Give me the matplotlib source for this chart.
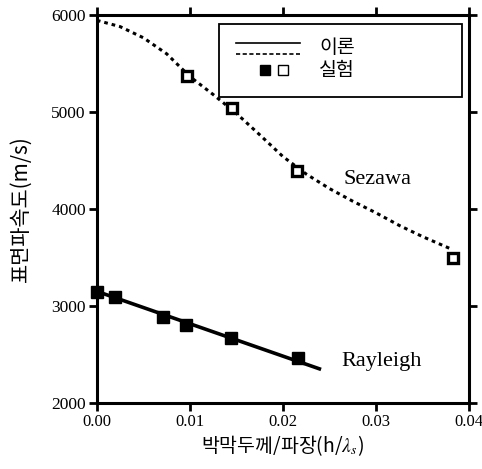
import matplotlib
matplotlib.use("Agg")
import matplotlib.pyplot as plt
from matplotlib.lines import Line2D
from matplotlib.patches import Rectangle

plt.rcParams['font.family'] = ['Liberation Serif', 'Noto Sans CJK KR', 'DejaVu Sans']
plt.rcParams['mathtext.fontset'] = 'stix'

# ---- data ----
ray_exp_x = [0.0, 0.0019, 0.0071, 0.0096, 0.0144, 0.0216]
ray_exp_y = [3145, 3090, 2890, 2800, 2665, 2460]
ray_th_x = [0.0, 0.0241]
ray_th_y = [3150, 2345]

sez_exp_x = [0.0097, 0.0145, 0.0215, 0.0383]
sez_exp_y = [5375, 5045, 4390, 3495]
sez_th_x = [0.0, 0.0025, 0.005, 0.0075, 0.01, 0.0125, 0.015, 0.0175,
            0.02, 0.0225, 0.025, 0.0275, 0.03, 0.0325, 0.035, 0.038]
sez_th_y = [5945, 5880, 5765, 5600, 5365, 5180, 4985, 4765,
            4540, 4360, 4210, 4080, 3960, 3830, 3715, 3590]

xticks = [0.00, 0.01, 0.02, 0.03, 0.04]
xtick_labels = ["0.00", "0.01", "0.02", "0.03", "0.04"]
yticks = [2000, 3000, 4000, 5000, 6000]
ytick_labels = ["2000", "3000", "4000", "5000", "6000"]

xlabel = "박막두께/파장(h/$\\lambda_s$)"
ylabel = "표면파속도(m/s)"
legend_labels = ["이론", "실험"]
series_names = ["Sezawa", "Rayleigh"]

KR = ["Noto Sans CJK KR", "DejaVu Sans"]

# ---- figure ----
fig = plt.figure(figsize=(4.82, 4.69), dpi=100)
ax = fig.add_axes([0.201, 0.141, 0.772, 0.827])

ax.plot(sez_th_x, sez_th_y, color="black", lw=2.2, linestyle=(0, (1.2, 1.3)))
ax.plot(ray_th_x, ray_th_y, color="black", lw=2.6, solid_capstyle="butt")
ax.plot(ray_exp_x, ray_exp_y, linestyle="none", marker="s", ms=8.5,
        mfc="black", mec="black", clip_on=False, zorder=5)
ax.plot(sez_exp_x, sez_exp_y, linestyle="none", marker="s", ms=6.5,
        mfc="white", mec="black", mew=2.4, clip_on=False, zorder=5)

ax.set_xlim(0, 0.04)
ax.set_ylim(2000, 6000)
ax.set_xticks(xticks)
ax.set_xticklabels(xtick_labels, family="Liberation Serif", fontsize=12)
ax.set_yticks(yticks)
ax.set_yticklabels(ytick_labels, family="Liberation Serif", fontsize=12.5)

for s in ax.spines.values():
    s.set_linewidth(2.2)
ax.tick_params(direction="out", length=6, width=2.0, top=True, right=True, pad=2)

ax.set_xlabel(xlabel, family=KR, fontsize=14, labelpad=2)
ax.set_ylabel(ylabel, family=KR, fontsize=15, labelpad=14)

ax.text(0.0302, 4300, series_names[0], family="Liberation Serif", fontsize=16,
        ha="center", va="center")
ax.text(0.0306, 2425, series_names[1], family="Liberation Serif", fontsize=16,
        ha="center", va="center")

# ---- legend (custom box) ----
T = ax.transAxes
ax.add_patch(Rectangle((0.328, 0.789), 0.653, 0.188, transform=T,
                       fill=False, ec="black", lw=1.3, zorder=6))
ax.add_line(Line2D([0.375, 0.545], [0.927, 0.927], transform=T, color="black", lw=1.2))
ax.add_line(Line2D([0.375, 0.545], [0.900, 0.900], transform=T, color="black", lw=1.2,
                   linestyle=(0, (2.5, 1.5))))
ax.add_line(Line2D([0.452], [0.859], transform=T, marker="s", ms=7, mfc="black",
                   mec="black", linestyle="none"))
ax.add_line(Line2D([0.500], [0.859], transform=T, marker="s", ms=6.5, mfc="white",
                   mec="black", mew=1.0, linestyle="none"))
ax.text(0.597, 0.915, legend_labels[0], transform=T, family=KR, fontsize=14,
        va="center")
ax.text(0.597, 0.857, legend_labels[1], transform=T, family=KR, fontsize=14,
        va="center")

fig.savefig("out.png", dpi=100)
